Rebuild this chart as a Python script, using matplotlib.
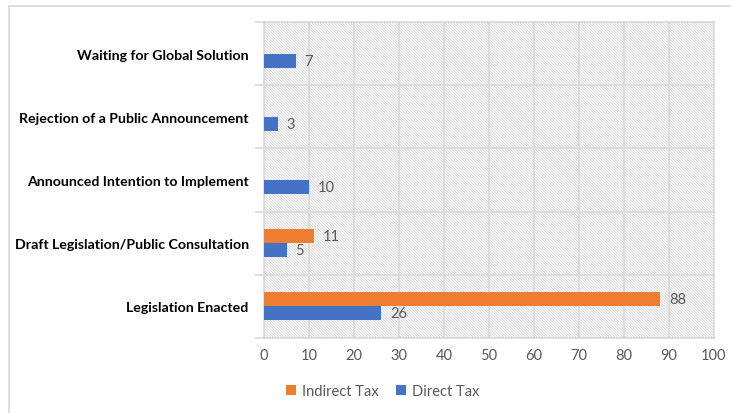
import matplotlib
matplotlib.use("Agg")
import matplotlib.pyplot as plt
from matplotlib.patches import Rectangle
import numpy as np

categories = [
    "Legislation Enacted",
    "Draft Legislation/Public Consultation",
    "Announced Intention to Implement",
    "Rejection of a Public Announcement",
    "Waiting for Global Solution",
]
indirect_tax = [88, 11, 0, 0, 0]
direct_tax = [26, 5, 10, 3, 7]
x_ticks = list(range(0, 101, 10))

ORANGE = "#ED7D31"
BLUE = "#4472C4"
GRID = "#d9d9d9"
TEXT_GRAY = "#595959"

plt.rcParams["font.family"] = ["Lato", "DejaVu Sans"]
plt.rcParams["hatch.linewidth"] = 0.6
plt.rcParams["hatch.color"] = "#d6d6d6"

fig = plt.figure(figsize=(7.31, 4.14), dpi=100)
ax = fig.add_axes([264 / 731, 1 - 339 / 414, 450 / 731, 316 / 414])

# chart border (left + top visible)
fig.add_artist(Rectangle((9 / 731, -0.1), 1.2, 1 - 6.5 / 414 + 0.1,
                         transform=fig.transFigure, fill=False,
                         edgecolor="#d9d9d9", linewidth=1.2))

# hatched plot area
ax.add_patch(Rectangle((0, 0), 1, 1, transform=ax.transAxes, facecolor="white",
                       hatch="\\" * 12, edgecolor="#d6d6d6", linewidth=0, zorder=0))

y = np.arange(len(categories))
h = 0.22
ax.barh(y + h / 2, indirect_tax, height=h, color=ORANGE, label="Indirect Tax", zorder=3)
ax.barh(y - h / 2, direct_tax, height=h, color=BLUE, label="Direct Tax", zorder=3)

for yi, v in zip(y, indirect_tax):
    if v:
        ax.text(v + 2, yi + h / 2, str(v), va="center", ha="left",
                color=TEXT_GRAY, fontsize=10.5)
for yi, v in zip(y, direct_tax):
    if v:
        ax.text(v + 2, yi - h / 2, str(v), va="center", ha="left",
                color=TEXT_GRAY, fontsize=10.5)

ax.set_xlim(0, 100)
ax.set_ylim(-0.5, len(categories) - 0.5)
ax.set_xticks(x_ticks)
ax.tick_params(axis="x", length=0, colors=TEXT_GRAY, labelsize=10.5, pad=7)
ax.xaxis.grid(True, color=GRID, linewidth=1.2, zorder=1)
ax.set_axisbelow(True)

ax.set_yticks(np.arange(len(categories) + 1) - 0.5)
ax.set_yticklabels([])
ax.tick_params(axis="y", which="major", length=6.5, color=GRID, width=1.2)
ax.set_yticks(y, minor=True)
ax.set_yticklabels(categories, minor=True, fontweight="bold", fontsize=10.2)
ax.tick_params(axis="y", which="minor", length=0, pad=11)
for yb in np.arange(len(categories) + 1) - 0.5:
    ax.axhline(yb, color=GRID, linewidth=1.2, zorder=1)

for s in ax.spines.values():
    s.set_color(GRID)
    s.set_linewidth(1.2)

fig.legend(loc="center", bbox_to_anchor=(0.523, 0.053), ncol=2, frameon=False,
           fontsize=10.5, handlelength=0.7, handleheight=0.7, handletextpad=0.4,
           columnspacing=1.2, labelcolor=TEXT_GRAY)

fig.savefig("out.png", dpi=100)
